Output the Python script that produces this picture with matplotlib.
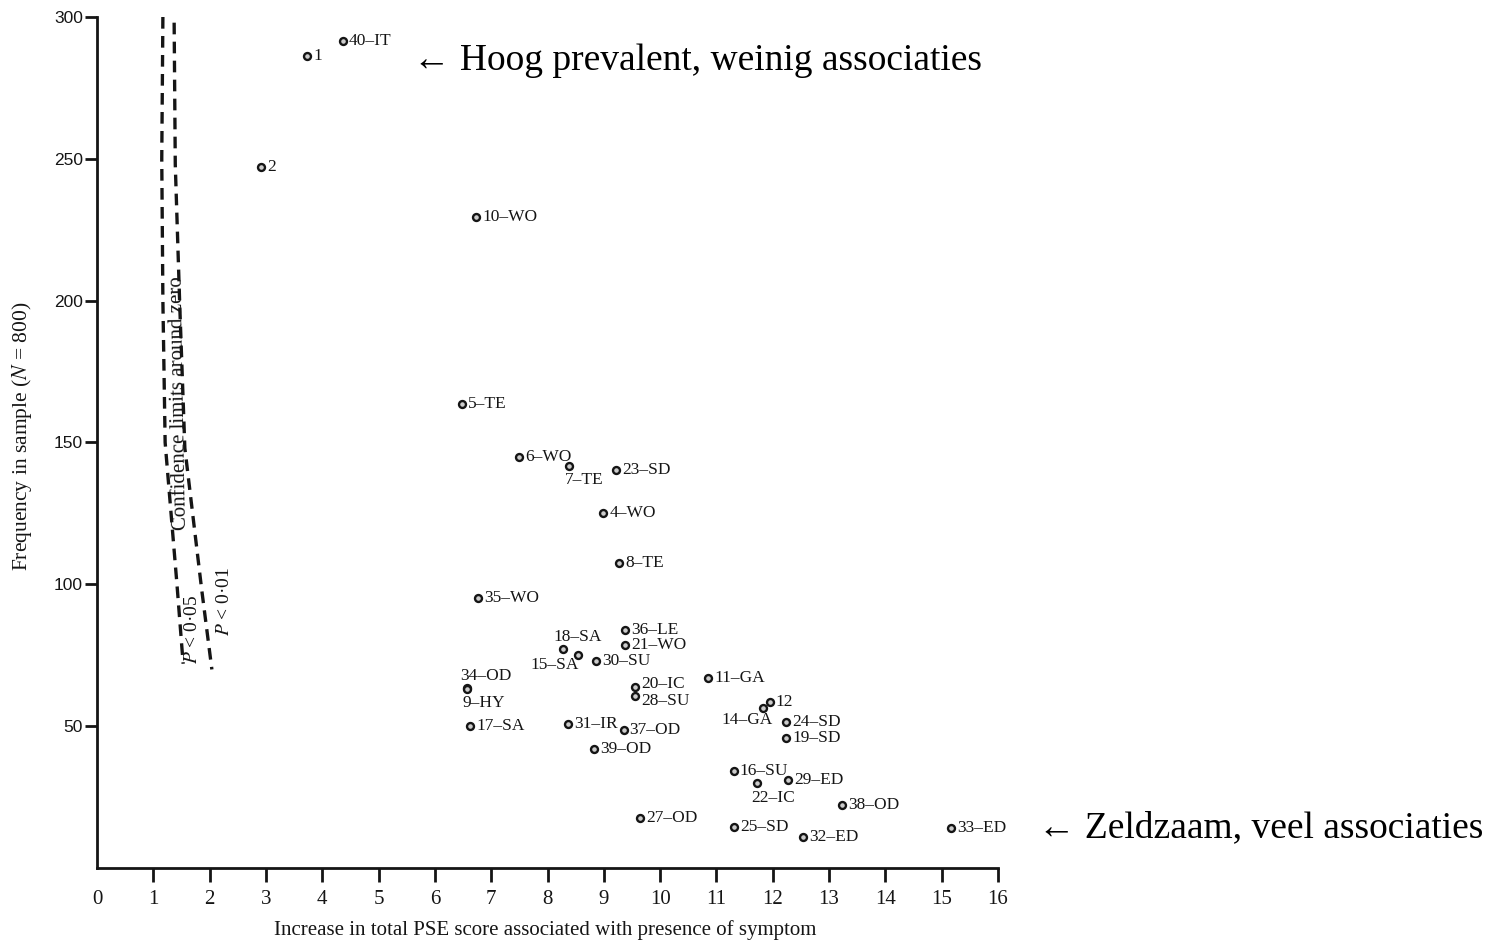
import matplotlib
matplotlib.use("Agg")
import matplotlib.pyplot as plt

plt.rcParams['font.family'] = ['Liberation Serif', 'DejaVu Serif']
plt.rcParams['mathtext.fontset'] = 'stix'

# symptom points: PSE score increase vs frequency in sample
labels = ["40–IT", "1", "2", "10–WO", "5–TE", "6–WO", "7–TE", "23–SD", "4–WO",
          "8–TE", "35–WO", "36–LE", "21–WO", "18–SA", "15–SA", "30–SU", "34–OD",
          "9–HY", "17–SA", "20–IC", "28–SU", "11–GA", "12", "14–GA", "24–SD",
          "19–SD", "31–IR", "37–OD", "39–OD", "16–SU", "22–IC", "29–ED", "38–OD",
          "27–OD", "25–SD", "32–ED", "33–ED"]
pse = [4.37, 3.73, 2.91, 6.73, 6.48, 7.50, 8.38, 9.22, 8.99,
       9.27, 6.77, 9.38, 9.38, 8.28, 8.54, 8.86, 6.57,
       6.57, 6.63, 9.56, 9.56, 10.85, 11.95, 11.83, 12.24,
       12.24, 8.37, 9.35, 8.83, 11.31, 11.72, 12.27, 13.23,
       9.64, 11.31, 12.54, 15.17]
freq = [291.6, 286.3, 247.2, 229.5, 163.6, 144.9, 141.7, 140.3, 125.2,
        107.5, 95.2, 83.9, 78.6, 77.2, 75.1, 73.0, 63.5,
        63.0, 50.1, 63.8, 60.6, 67.0, 58.5, 56.4, 51.5,
        45.8, 50.8, 48.7, 42.0, 34.2, 30.0, 31.0, 22.2,
        17.6, 14.5, 10.9, 14.1]

# confidence limits around zero
ci_freq = [300, 250, 200, 150, 100, 72]
ci_p05 = [1.17, 1.15, 1.17, 1.21, 1.42, 1.53]
ci_p01 = [1.37, 1.39, 1.47, 1.56, 1.86, 2.04]

xticks = list(range(0, 17))
yticks = [50, 100, 150, 200, 250, 300]

# label offsets in pixels (dx, dy, ha), default is right of the point
special = {
    "7–TE": (-4, -14, 'left'),
    "18–SA": (-10, 12, 'left'),
    "15–SA": (1, -10, 'right'),
    "34–OD": (-7, 12, 'left'),
    "9–HY": (-4, -14, 'left'),
    "14–GA": (10, -12, 'right'),
    "22–IC": (-6, -15, 'left'),
    "20–IC": (6, 3, 'left'),
    "28–SU": (6, -5, 'left'),
}

fig = plt.figure(figsize=(14.94, 9.41), dpi=100)
ax = fig.add_axes([97 / 1494, 1 - 868 / 941, 901 / 1494, 851 / 941])

ink = '#151515'
ax.plot(ci_p05, ci_freq, ls=(0, (3.5, 2.2)), lw=2.4, color=ink)
ax.plot(ci_p01, [f - 2 for f in ci_freq], ls=(0, (3.5, 2.2)), lw=2.4, color=ink)

ax.plot(pse, freq, 'o', ms=5, mfc='#cccccc', mec=ink, mew=1.7, clip_on=False)

for lab, x, y in zip(labels, pse, freq):
    dx, dy, ha = special.get(lab, (6, 0, 'left'))
    ax.annotate(lab, (x, y), xytext=(dx, dy), textcoords='offset pixels',
                ha=ha, va='center', fontsize=12.5, color=ink, annotation_clip=False)

ax.text(1.47, 164, "Confidence limits around zero", rotation=91, ha='center',
        va='center', fontsize=15, color=ink)
ax.text(1.70, 84, "$P$ < 0·05", rotation=90, ha='center', va='center',
        fontsize=14, color=ink)
ax.text(2.27, 94, "$P$ < 0·01", rotation=90, ha='center', va='center',
        fontsize=14, color=ink)

ax.set_xlim(0, 16)
ax.set_ylim(0, 300)
ax.spines['top'].set_visible(False)
ax.spines['right'].set_visible(False)
ax.spines['left'].set_linewidth(2)
ax.spines['bottom'].set_linewidth(2)
ax.spines['left'].set_color(ink)
ax.spines['bottom'].set_color(ink)

ax.set_xticks(xticks)
ax.set_xticklabels([str(t) for t in xticks], fontsize=15)
ax.set_yticks(yticks)
ax.set_yticklabels([str(t) for t in yticks], fontsize=12.5,
                   family=['Liberation Sans', 'DejaVu Sans'])
ax.tick_params(axis='x', direction='out', length=10, width=2, pad=6, colors=ink)
ax.tick_params(axis='y', direction='out', length=9, width=2, pad=1, colors=ink)
ax.xaxis.get_major_ticks()[0].tick1line.set_visible(False)

fig.text(22 / 1494, 1 - 436 / 941, "Frequency in sample ($N$ = 800)", rotation=90,
         ha='center', va='center', fontsize=15.5, color=ink)
fig.text(545 / 1494, 1 - 930 / 941,
         "Increase in total PSE score associated with presence of symptom",
         ha='center', va='center', fontsize=15, color=ink)

fig.text(413 / 1494, 1 - 61 / 941, "← Hoog prevalent, weinig associaties",
         ha='left', va='center', fontsize=27, color='black')
fig.text(1038 / 1494, 1 - 828 / 941, "← Zeldzaam, veel associaties",
         ha='left', va='center', fontsize=27, color='black')

fig.savefig("out.png", dpi=100)
